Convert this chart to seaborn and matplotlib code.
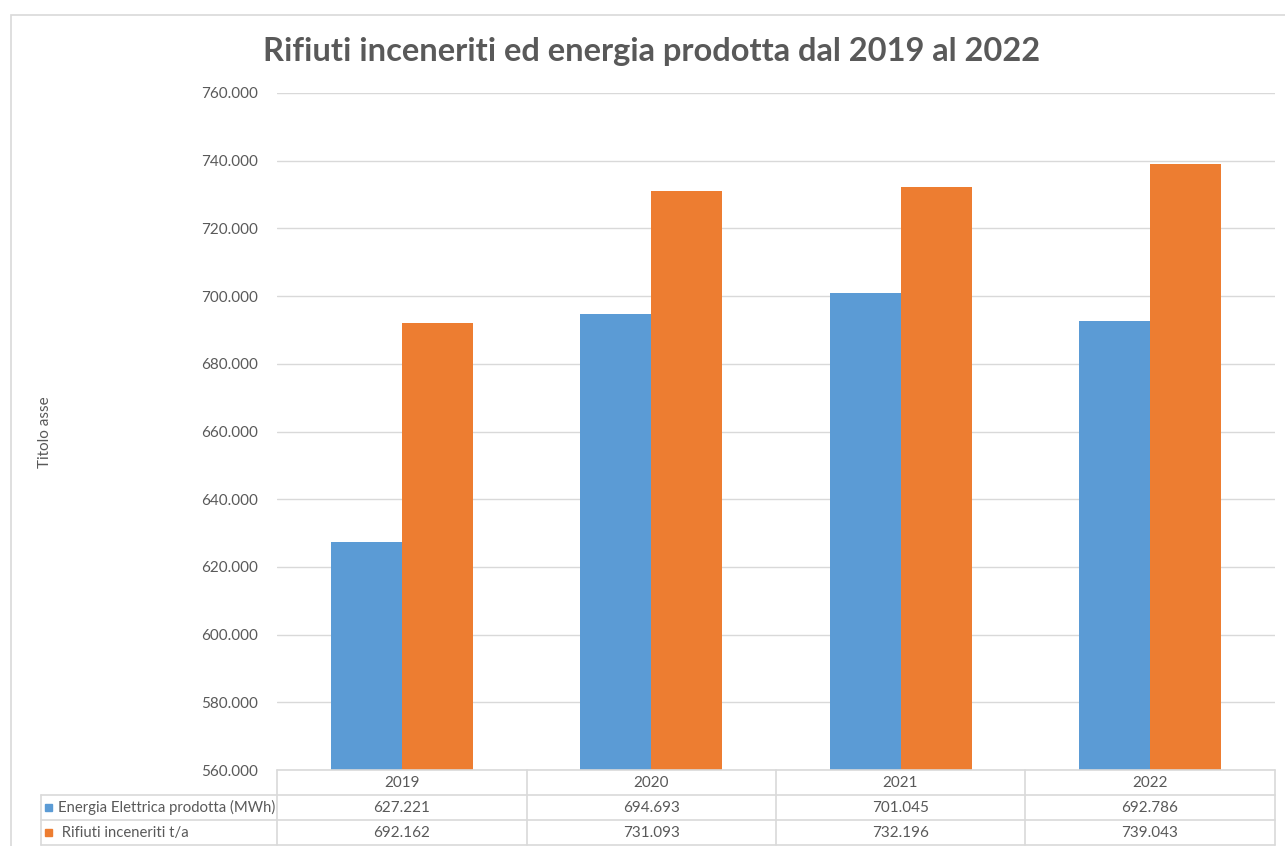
import numpy as np
import pandas as pd
import matplotlib.pyplot as plt
import seaborn as sns
from matplotlib.lines import Line2D
from matplotlib.patches import Rectangle
from matplotlib.ticker import FuncFormatter

years = ["2019", "2020", "2021", "2022"]
energia = [627221, 694693, 701045, 692786]
rifiuti = [692162, 731093, 732196, 739043]
series_names = ["Energia Elettrica prodotta (MWh)", "Rifiuti inceneriti t/a"]
series_colors = ["#5B9BD5", "#ED7D31"]
y_ticks = [560000, 580000, 600000, 620000, 640000, 660000, 680000, 700000,
           720000, 740000, 760000]

TITLE = "Rifiuti inceneriti ed energia prodotta dal 2019 al 2022"
GREY = "#595959"
LINE = "#d9d9d9"

sns.set_theme(style="white")
plt.rcParams["font.family"] = ["Lato", "DejaVu Sans"]

W, H = 1285, 846


def fx(px):
    return px / W


def fy(py):
    return 1 - py / H


def fmt_it(v):
    return f"{int(round(v)):,}".replace(",", ".")


df = pd.DataFrame({
    "anno": years * 2,
    "valore": energia + rifiuti,
    "serie": [series_names[0]] * 4 + [series_names[1]] * 4,
})

fig = plt.figure(figsize=(W / 100, H / 100), dpi=100)
ax = fig.add_axes([fx(277), fy(770), fx(1275) - fx(277), fy(93) - fy(770)])

sns.barplot(data=df, x="anno", y="valore", hue="serie", palette=series_colors,
            width=0.57, gap=0, saturation=1, ax=ax, legend=False,
            edgecolor="none", linewidth=0)

ax.set_ylim(y_ticks[0], y_ticks[-1])
ax.set_xlim(-0.5, len(years) - 0.5)
ax.set_yticks(y_ticks)
ax.yaxis.set_major_formatter(FuncFormatter(lambda v, p: fmt_it(v)))
ax.tick_params(axis="y", length=0, pad=14, labelsize=11, labelcolor=GREY)
ax.set_xticks([])
ax.set_xlabel("")
ax.set_ylabel("")
ax.grid(axis="y", color=LINE, linewidth=1)
ax.set_axisbelow(True)
for s in ax.spines.values():
    s.set_visible(False)

# chart frame
fig.add_artist(Rectangle((fx(11), fy(850)), fx(1300) - fx(11), fy(15) - fy(850),
                         transform=fig.transFigure, fill=False,
                         edgecolor=LINE, linewidth=1.2))

fig.text(fx(652), fy(51), TITLE, ha="center", va="center", fontsize=23.5,
         fontweight="bold", color=GREY)
fig.text(fx(45), fy(432), "Titolo asse", rotation=90, ha="center", va="center",
         fontsize=11, color=GREY)

# data table under the axis
col_x = [277, 527, 776, 1025, 1275]
row_y = [770, 795, 820, 845]
kw = dict(transform=fig.transFigure, color=LINE, linewidth=1.2)
fig.add_artist(Line2D([fx(277), fx(1275)], [fy(770)] * 2, **kw))
for y in row_y[1:]:
    fig.add_artist(Line2D([fx(41), fx(1275)], [fy(y)] * 2, **kw))
for x in col_x:
    fig.add_artist(Line2D([fx(x)] * 2, [fy(770), fy(845)], **kw))
fig.add_artist(Line2D([fx(41)] * 2, [fy(795), fy(845)], **kw))

for i, yr in enumerate(years):
    cx = (col_x[i] + col_x[i + 1]) / 2
    fig.text(fx(cx), fy(782.5), yr, ha="center", va="center", fontsize=11, color=GREY)
    fig.text(fx(cx), fy(807.5), fmt_it(energia[i]), ha="center", va="center",
             fontsize=11, color=GREY)
    fig.text(fx(cx), fy(832.5), fmt_it(rifiuti[i]), ha="center", va="center",
             fontsize=11, color=GREY)

for j, (name, col) in enumerate(zip(series_names, series_colors)):
    yc = 807.5 + 25 * j
    fig.add_artist(Rectangle((fx(45), fy(yc + 3.5)), fx(7), fy(0) - fy(7),
                             transform=fig.transFigure, color=col))
    label = name if j == 0 else " " + name
    fig.text(fx(58), fy(yc), label, ha="left", va="center", fontsize=10.7, color=GREY)

fig.savefig("out.png", dpi=100)
plt.close(fig)
